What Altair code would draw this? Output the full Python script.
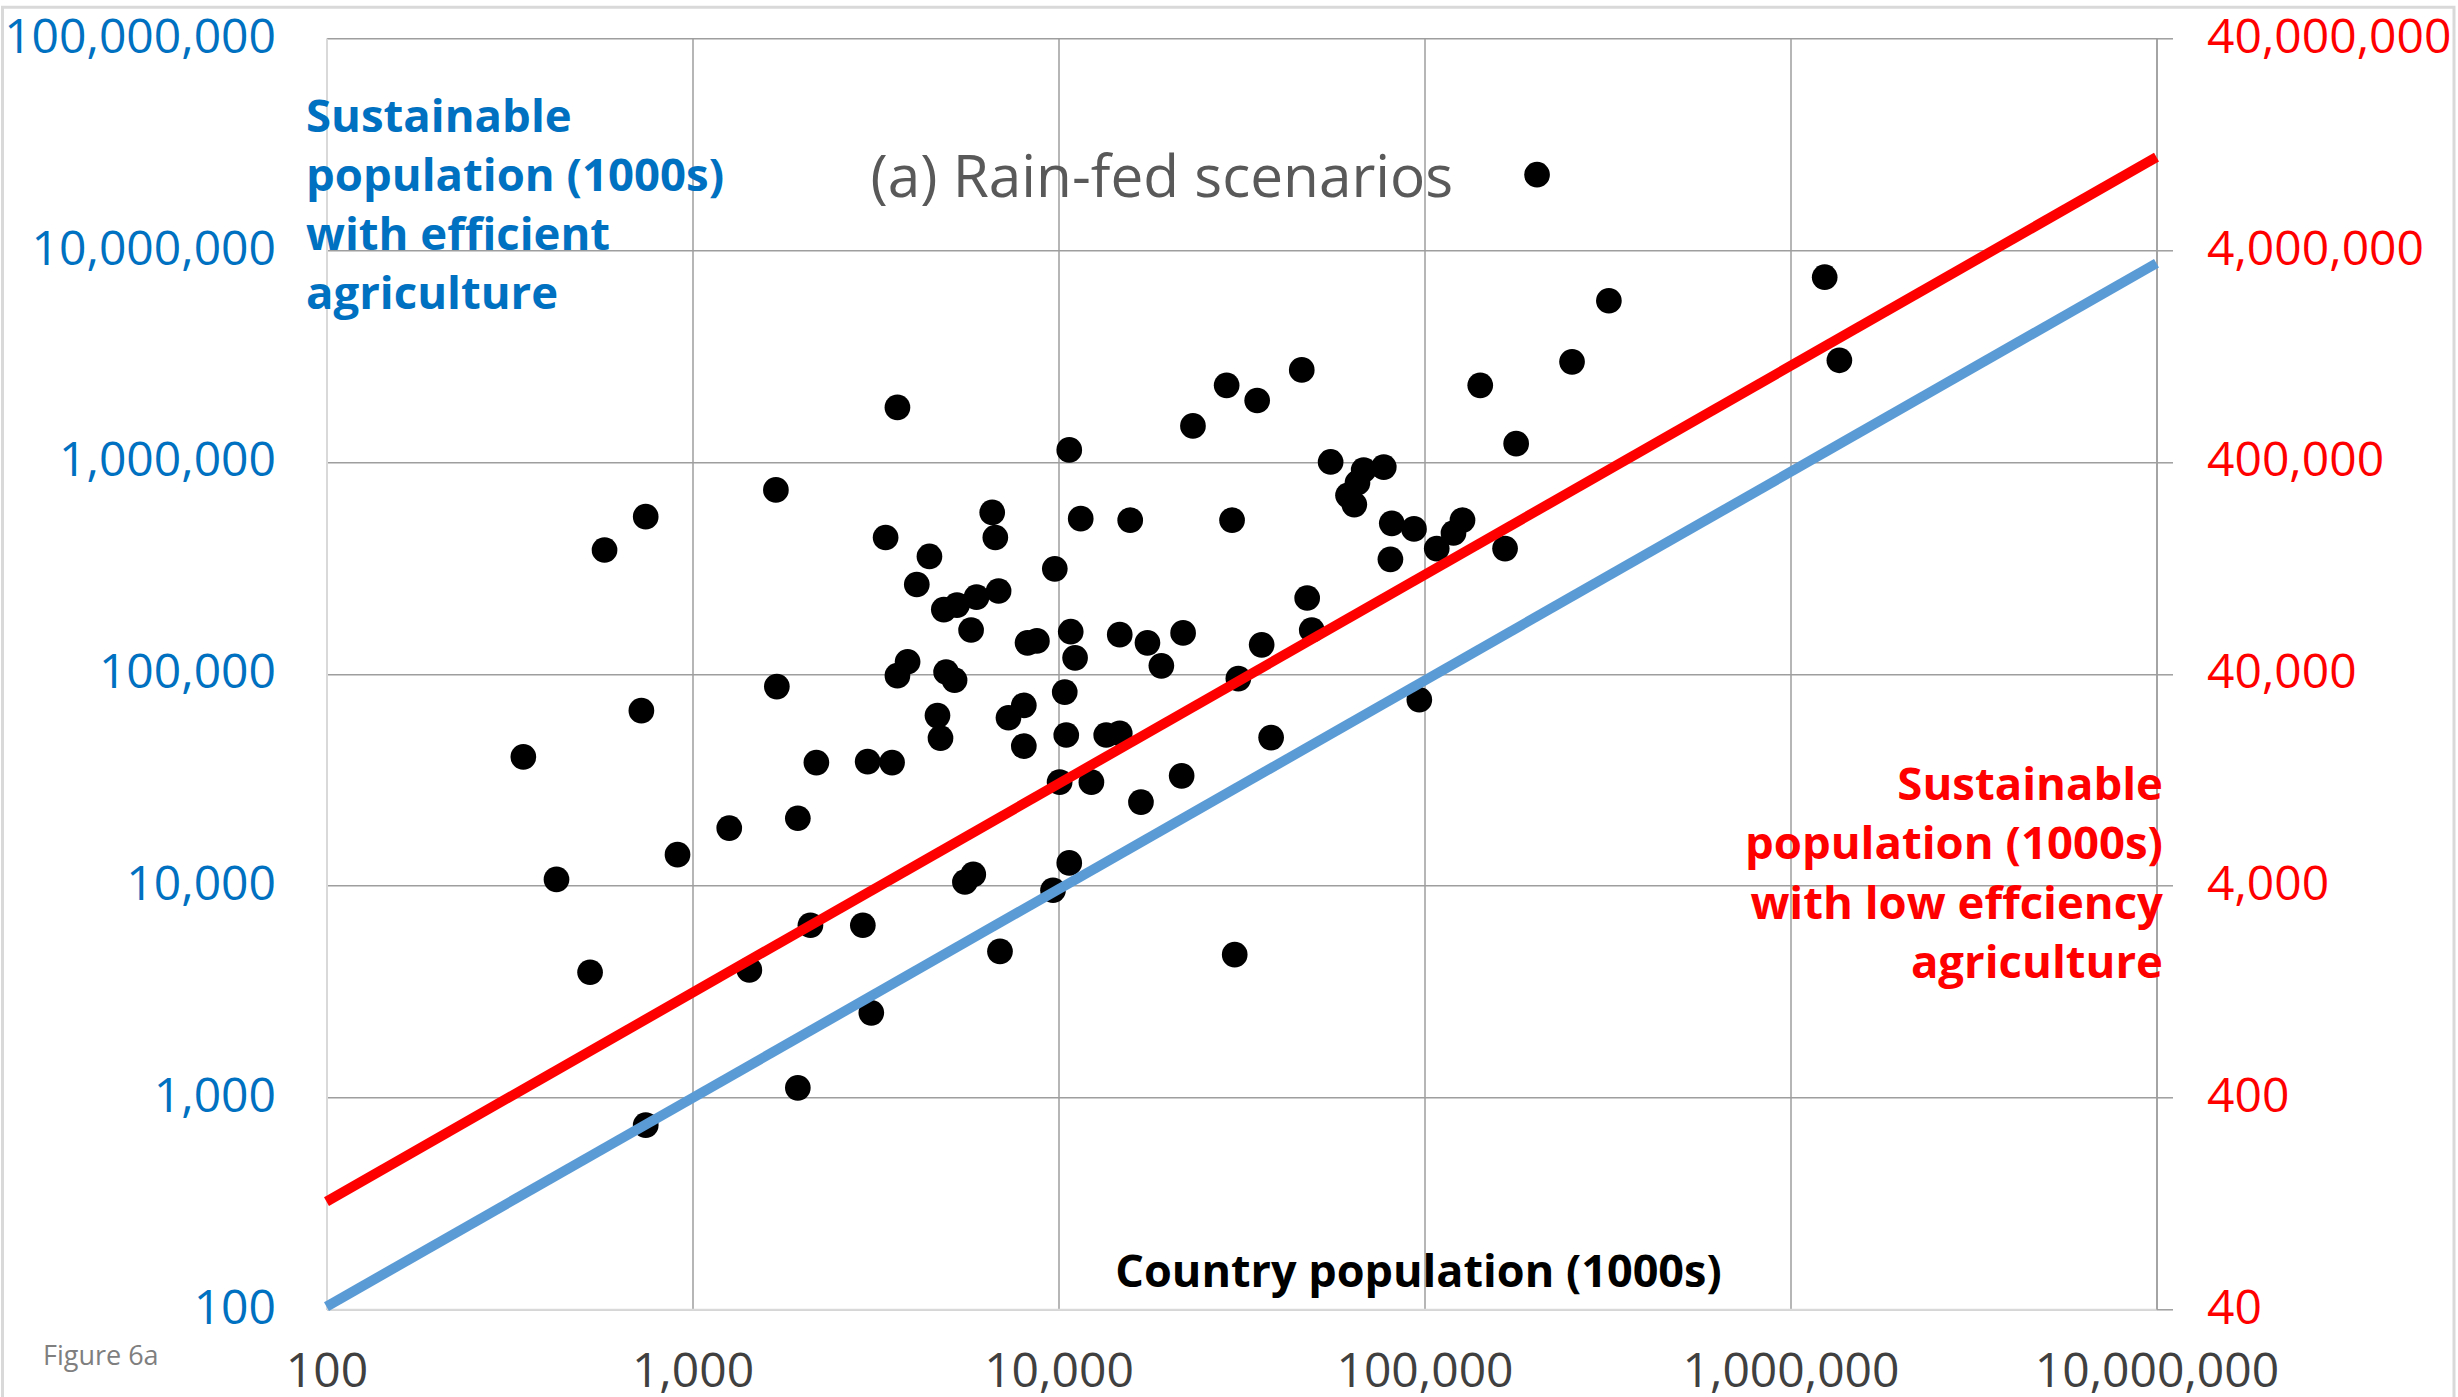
import altair as alt
import pandas as pd

# Country population (1000s) and sustainable population (1000s) with efficient agriculture
country_pop = [
    345, 425, 525, 575, 725, 745, 745, 910, 1260, 1430,
    1690, 1700, 1940, 1940, 2100, 2180, 2920, 3010, 3080, 3370,
    3510, 3630, 3630, 3870, 4100, 4440, 4670, 4760, 4860, 4930,
    5200, 5280, 5550, 5770, 5970, 5850, 6590, 6720, 6860, 6920,
    7300, 8040, 8040, 8230, 8730, 9660, 9770, 10070, 10400, 10500,
    10700, 10800, 10700, 11100, 11500, 12300, 13500, 14700, 14700, 15700,
    16800, 17500, 19100, 21700, 21900, 23300, 28800, 29800, 30300, 31000,
    34900, 35900, 38100, 46200, 47800, 49200, 55400, 68200, 65600, 61800,
    64300, 77400, 81400, 80700, 93600, 96800, 108000, 120000, 127000, 142000,
    166000, 178000, 203000, 253000, 319000, 1240000, 1360000,
]
sustainable_pop = [
    40500, 10700, 3900, 384000, 67000, 552000, 740, 14000, 18700, 4000,
    738000, 87000, 20800, 1110, 6500, 38100, 6500, 38500, 2510, 440000,
    38100, 1810000, 98000, 114000, 264000, 358000, 63500, 49700, 201000, 102000,
    93300, 211000, 10400, 161000, 230000, 11300, 578000, 440000, 246000, 4890,
    62000, 45600, 71000, 140000, 143000, 9510, 313000, 30800, 82000, 51400,
    1140000, 158000, 12800, 119000, 540000, 30800, 51400, 153000, 52300, 531000,
    24800, 140000, 109000, 33000, 156000, 1480000, 2300000, 531000, 4720, 94900,
    1950000, 137000, 50000, 2720000, 228000, 161000, 1000000, 916000, 798000, 696000,
    629000, 946000, 513000, 347000, 483000, 75400, 390000, 462000, 531000, 2300000,
    390000, 1220000, 22700000, 2970000, 5770000, 7450000, 3020000,
]

# Reference lines (end points)
efficient_x = [100, 10000000]
efficient_y = [103, 8670000]
low_eff_x = [100, 10000000]
low_eff_y = [129, 11000000]  # in low-efficiency (right axis) units

x_ticks = [100, 1000, 10000, 100000, 1000000, 10000000]
left_ticks = [100, 1000, 10000, 100000, 1000000, 10000000, 100000000]
right_ticks = [40, 400, 4000, 40000, 400000, 4000000, 40000000]

FONT = "Open Sans"
GRID = "#9e9e9e"
BLUE_TXT = "#0070C0"
RED = "#FF0000"
LABEL_SIZE = 48

W, H = 1830, 1271
PAD_L, PAD_T = 326.5, 38.3

x_scale = alt.Scale(type="log", domain=[100, 10000000], nice=False)
y_left = alt.Scale(type="log", domain=[100, 100000000], nice=False)
y_right = alt.Scale(type="log", domain=[40, 40000000], nice=False)

x_axis = alt.Axis(
    values=x_ticks, format=",d", title=None, grid=True, gridColor=GRID, gridWidth=1.5,
    ticks=False, tickSize=0, domainColor="#d9d9d9", domainWidth=2,
    labelColor="#404040", labelFont=FONT, labelFontSize=LABEL_SIZE, labelBaseline="alphabetic",
    labelPadding=77, labelFlush=False, labelOverlap=False, labelLimit=0, labelBound=False,
)
left_axis = alt.Axis(
    values=left_ticks, format=",d", title=None, grid=True, gridColor=GRID, gridWidth=1.5,
    ticks=False, tickSize=0, domainColor="#d9d9d9", domainWidth=2,
    labelColor=BLUE_TXT, labelFont=FONT, labelFontSize=LABEL_SIZE, labelBaseline="middle",
    labelPadding=51, labelFlush=False, labelOverlap=False, labelLimit=0,
)
right_axis = alt.Axis(
    orient="right", values=right_ticks, format=",d", title=None, grid=False,
    ticks=True, tickSize=16, tickColor=GRID, tickWidth=1.5,
    domainColor=GRID, domainWidth=1.5,
    labelColor=RED, labelFont=FONT, labelFontSize=LABEL_SIZE, labelBaseline="middle",
    labelPadding=34, labelFlush=False, labelOverlap=False, labelLimit=0,
)

pts = pd.DataFrame({"country": country_pop, "sustainable": sustainable_pop})
points = alt.Chart(pts).mark_circle(size=660, color="black", opacity=1).encode(
    x=alt.X("country:Q", scale=x_scale, axis=x_axis),
    y=alt.Y("sustainable:Q", scale=y_left, axis=left_axis),
)

blue = alt.Chart(pd.DataFrame({"x": efficient_x, "y": efficient_y})).mark_line(
    color="#5B9BD5", strokeWidth=10, strokeCap="butt"
).encode(
    x=alt.X("x:Q", scale=x_scale, axis=x_axis),
    y=alt.Y("y:Q", scale=y_left, axis=None),
)

red = alt.Chart(pd.DataFrame({"x": low_eff_x, "y": low_eff_y})).mark_line(
    color=RED, strokeWidth=10, strokeCap="butt"
).encode(
    x=alt.X("x:Q", scale=x_scale, axis=x_axis),
    y=alt.Y("y:Q", scale=y_right, axis=right_axis),
)


def label(text, x, y, size, color, weight="normal", align="left", line_height=None):
    kw = dict(align=align, baseline="alphabetic", font=FONT, fontSize=size,
              fontWeight=weight, color=color, lineBreak="\n")
    if line_height:
        kw["lineHeight"] = line_height
    return alt.Chart(pd.DataFrame({"t": [text]})).mark_text(**kw).encode(
        x=alt.value(x), y=alt.value(y), text="t:N"
    )


title = label("(a) Rain-fed scenarios", 870.5 - PAD_L, 196.7 - PAD_T, 58.5, "#595959")
blue_note = label("Sustainable\npopulation (1000s)\nwith efficient\nagriculture",
                  306 - PAD_L, 131.7 - PAD_T, 45.5, BLUE_TXT, "bold", "left", 59)
red_note = label("Sustainable\npopulation (1000s)\nwith low effciency\nagriculture",
                 2163 - PAD_L, 800 - PAD_T, 45.5, RED, "bold", "right", 59.3)
x_title = label("Country population (1000s)", 1418.5 - PAD_L, 1286.7 - PAD_T, 45,
                "black", "bold", "center")
fig_label = label("Figure 6a", 43 - PAD_L, 1365 - PAD_T, 27, "#7f7f7f")

frame = alt.Chart(pd.DataFrame({"a": [0]})).mark_rect(
    fillOpacity=0, stroke="#d9d9d9", strokeWidth=3
).encode(
    x=alt.value(2.5 - PAD_L), x2=alt.value(2454 - PAD_L),
    y=alt.value(7.3 - PAD_T), y2=alt.value(1420 - PAD_T),
)

chart = alt.layer(
    frame, points, blue, red, title, blue_note, red_note, x_title, fig_label
).resolve_scale(y="independent").properties(
    width=W, height=H,
    autosize=alt.AutoSizeParams(type="none"),
    padding={"left": PAD_L, "top": PAD_T, "right": 2458 - PAD_L - W, "bottom": 1397 - PAD_T - H},
    background="white",
).configure_view(stroke=None)

chart.save("out.html", embed_options={"renderer": "svg", "actions": False})
